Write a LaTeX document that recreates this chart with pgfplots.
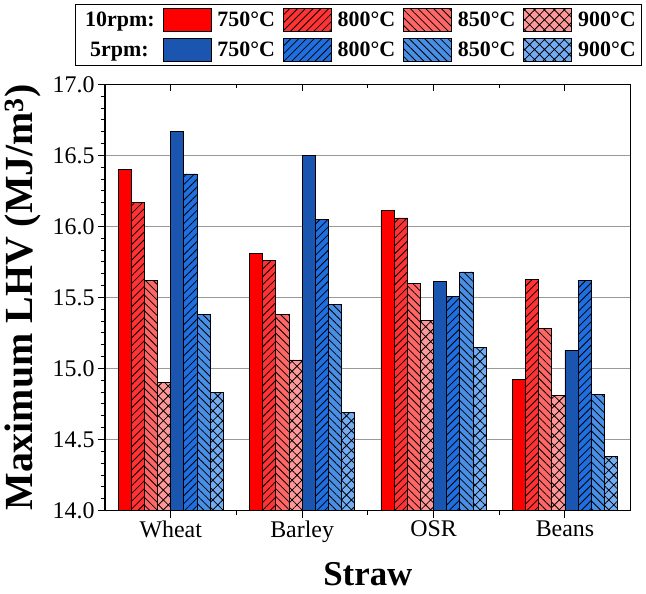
\documentclass[border=0pt]{standalone}
\usepackage{pgfplots}
\pgfplotsset{compat=1.18}
\usetikzlibrary{patterns.meta}
\usepackage{fontspec}
\setmainfont{Liberation Serif}
\definecolor{rA}{HTML}{FF0000}
\definecolor{rB}{HTML}{FF3333}
\definecolor{rC}{HTML}{FF6666}
\definecolor{rD}{HTML}{FF9999}
\definecolor{bA}{HTML}{1A56B0}
\definecolor{bB}{HTML}{1F6FE0}
\definecolor{bC}{HTML}{4A8FE6}
\definecolor{bD}{HTML}{72ACF2}
\tikzset{
  pNE/.style={postaction={pattern={Lines[angle=45,distance=5.5bp,line width=0.8bp]}}},
  pNW/.style={postaction={pattern={Lines[angle=-45,distance=5.5bp,line width=0.8bp]}}},
  pX/.style={postaction={pattern={Hatch[angle=45,distance=7bp,line width=0.8bp]}}},
}
\begin{document}
\begin{tikzpicture}
\useasboundingbox (-105bp,-83.5bp) rectangle (541bp,510.5bp);
\begin{axis}[
  scale only axis, width=525.7bp, height=426bp,
  xmin=-0.5, xmax=3.5, ymin=14, ymax=17,
  xtick={0,1,2,3}, xticklabels={Wheat,Barley,OSR,Beans},
  minor x tick num=1, xtick pos=left,
  ytick={14,14.5,15,15.5,16,16.5,17}, minor y tick num=5, ytick pos=left,
  tick align=outside,
  major tick length=7bp, minor tick length=4bp,
  tick style={black, line width=1bp},
  axis line style={black, line width=1.5bp},
  ymajorgrids, grid style={gray!80, line width=0.9bp},
  ticklabel style={font=\fontsize{24}{28}\selectfont},
  /pgf/number format/assume math mode=true,
  yticklabel style={/pgf/number format/fixed, /pgf/number format/fixed zerofill, /pgf/number format/precision=1},
  xlabel={\textbf{Straw}},
  ylabel={\textbf{Maximum LHV (MJ/m\textsuperscript{3})}},
  xlabel style={font=\fontsize{35}{40}\selectfont, inner sep=0pt, at={(axis description cs:0.5,-0.177)}, anchor=base},
  ylabel style={font=\fontsize{40}{44}\selectfont, at={(axis description cs:-0.156,0.5)}, anchor=center},
  legend columns=5,
  legend cell align=left,
  legend image code/.code={\draw[#1] (0bp,-11.5bp) rectangle (48bp,11.5bp);},
  legend style={at={(axis description cs:1.021,1.189)}, anchor=north east,
    draw=black, line width=1.2bp, inner sep=3.5bp,
    font=\fontsize{22}{25}\selectfont\bfseries,
    row sep=6.5bp,
    /tikz/every odd column/.append style={column sep=4bp},
    /tikz/every even column/.append style={column sep=6bp}},
  every axis plot/.append style={ybar, bar width=0.1, draw=black, line width=0.8bp},
]
\addlegendimage{empty legend}\addlegendentry{10rpm:}
\addplot[fill=rA, bar shift=-0.35] coordinates {(0,16.40) (1,15.81) (2,16.11) (3,14.92)};
\addlegendentry{750°C}
\addplot[fill=rB, pNE, bar shift=-0.25] coordinates {(0,16.17) (1,15.76) (2,16.06) (3,15.63)};
\addlegendentry{800°C}
\addplot[fill=rC, pNW, bar shift=-0.15] coordinates {(0,15.62) (1,15.38) (2,15.60) (3,15.28)};
\addlegendentry{850°C}
\addplot[fill=rD, pX, bar shift=-0.05] coordinates {(0,14.90) (1,15.06) (2,15.34) (3,14.81)};
\addlegendentry{900°C}
\addlegendimage{empty legend}\addlegendentry{\makebox[0pt][l]{\hspace{5bp}5rpm:}}
\addplot[fill=bA, bar shift=0.05] coordinates {(0,16.67) (1,16.50) (2,15.61) (3,15.13)};
\addlegendentry{750°C}
\addplot[fill=bB, pNE, bar shift=0.15] coordinates {(0,16.37) (1,16.05) (2,15.51) (3,15.62)};
\addlegendentry{800°C}
\addplot[fill=bC, pNW, bar shift=0.25] coordinates {(0,15.38) (1,15.45) (2,15.68) (3,14.82)};
\addlegendentry{850°C}
\addplot[fill=bD, pX, bar shift=0.35] coordinates {(0,14.83) (1,14.69) (2,15.15) (3,14.38)};
\addlegendentry{900°C}
\end{axis}
\begin{axis}[
  scale only axis, width=525.7bp, height=426bp,
  xmin=-0.5, xmax=3.5, ymin=14, ymax=17,
  hide y axis,
  xtick={0,1,2,3}, xticklabels={}, minor x tick num=1, xtick pos=right,
  tick align=inside,
  major tick length=7bp, minor tick length=4bp,
  tick style={black, line width=1bp},
  axis line style={black, line width=1.5bp},
]
\end{axis}
\end{tikzpicture}
\end{document}
